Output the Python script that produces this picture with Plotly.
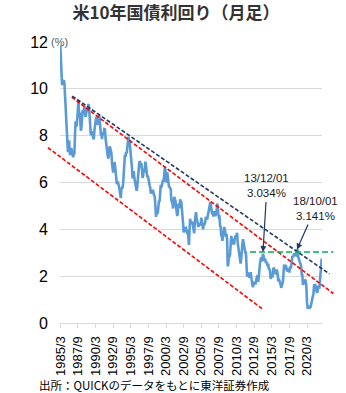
import plotly.graph_objects as go

# ---------------- data ----------------
start_year, start_month = 1985, 3
yield_pct = [
    # 1985 Mar-Dec
    11.86, 11.43, 10.85, 10.16, 10.31, 10.33, 10.37, 10.24, 9.78, 9.26,
    # 1986
    9.19, 8.70, 7.78, 7.30, 7.71, 7.80, 7.30, 7.17, 7.45, 7.43, 7.25, 7.11,
    # 1987
    7.08, 7.25, 7.25, 8.02, 8.61, 8.40, 8.45, 8.76, 9.42, 9.52, 8.86, 8.99,
    # 1988
    8.67, 8.21, 8.37, 8.72, 9.09, 8.92, 9.06, 9.26, 8.98, 8.80, 8.96, 9.11,
    # 1989
    9.09, 9.17, 9.36, 9.18, 8.86, 8.28, 8.02, 8.11, 8.19, 8.01, 7.87, 7.84,
    # 1990
    8.21, 8.47, 8.59, 8.79, 8.76, 8.48, 8.47, 8.75, 8.89, 8.72, 8.39, 8.08,
    # 1991
    8.09, 7.85, 8.11, 8.04, 8.07, 8.28, 8.27, 7.90, 7.65, 7.53, 7.42, 7.09,
    # 1992
    7.03, 7.34, 7.54, 7.48, 7.39, 7.26, 6.84, 6.59, 6.42, 6.59, 6.87, 6.77,
    # 1993
    6.60, 6.26, 5.98, 5.97, 6.04, 5.96, 5.81, 5.68, 5.36, 5.33, 5.72, 5.77,
    # 1994
    5.75, 5.97, 6.48, 6.97, 7.18, 7.10, 7.30, 7.24, 7.46, 7.74, 7.96, 7.81,
    # 1995
    7.78, 7.47, 7.20, 7.06, 6.63, 6.17, 6.28, 6.49, 6.20, 6.04, 5.93, 5.71,
    # 1996
    5.65, 5.81, 6.27, 6.51, 6.74, 6.91, 6.87, 6.64, 6.83, 6.53, 6.20, 6.30,
    # 1997
    6.58, 6.42, 6.69, 6.89, 6.71, 6.49, 6.22, 6.30, 6.21, 6.03, 5.88, 5.81,
    # 1998
    5.54, 5.57, 5.65, 5.64, 5.65, 5.50, 5.46, 5.34, 4.81, 4.53, 4.83, 4.65,
    # 1999
    4.72, 5.00, 5.23, 5.18, 5.54, 5.90, 5.79, 5.94, 5.92, 6.11, 6.03, 6.28,
    # 2000
    6.66, 6.52, 6.26, 5.99, 6.44, 6.10, 6.05, 5.83, 5.80, 5.74, 5.72, 5.24,
    # 2001
    5.16, 5.10, 4.89, 5.14, 5.39, 5.28, 5.24, 4.97, 4.73, 4.57, 4.65, 5.09,
    # 2002
    5.04, 4.91, 5.28, 5.21, 5.16, 4.93, 4.65, 4.26, 3.87, 3.94, 4.05, 4.03,
    # 2003
    4.05, 3.90, 3.81, 3.96, 3.57, 3.33, 3.98, 4.45, 4.27, 4.29, 4.30, 4.27,
    # 2004
    4.15, 4.08, 3.83, 4.35, 4.72, 4.73, 4.50, 4.28, 4.13, 4.10, 4.19, 4.23,
    # 2005
    4.22, 4.17, 4.50, 4.34, 4.14, 4.00, 4.18, 4.26, 4.20, 4.46, 4.54, 4.47,
    # 2006
    4.42, 4.57, 4.72, 4.99, 5.11, 5.11, 5.09, 4.88, 4.72, 4.73, 4.60, 4.56,
    # 2007
    4.76, 4.72, 4.56, 4.69, 4.75, 5.10, 5.00, 4.67, 4.52, 4.53, 4.15, 4.10,
    # 2008
    3.74, 3.74, 3.51, 3.68, 3.88, 4.10, 4.01, 3.89, 3.69, 3.81, 3.53, 2.42,
    # 2009
    2.52, 2.87, 2.82, 2.93, 3.29, 3.72, 3.56, 3.59, 3.40, 3.39, 3.40, 3.59,
    # 2010
    3.73, 3.69, 3.73, 3.85, 3.42, 3.20, 3.01, 2.70, 2.65, 2.54, 2.76, 3.29,
    # 2011
    3.39, 3.58, 3.41, 3.46, 3.17, 3.00, 3.00, 2.30, 1.98, 2.15, 2.01, 1.98,
    # 2012
    1.97, 1.97, 2.17, 2.05, 1.80, 1.62, 1.53, 1.68, 1.72, 1.75, 1.65, 1.72,
    # 2013
    1.91, 1.98, 1.96, 1.76, 1.93, 2.30, 2.58, 2.74, 2.81, 2.62, 2.72, 2.95,
    # 2014
    2.86, 2.71, 2.72, 2.71, 2.56, 2.60, 2.54, 2.42, 2.53, 2.30, 2.33, 2.21,
    # 2015
    1.88, 1.98, 2.04, 1.94, 2.20, 2.36, 2.32, 2.17, 2.17, 2.07, 2.26, 2.24,
    # 2016
    2.09, 1.78, 1.89, 1.81, 1.81, 1.64, 1.50, 1.56, 1.63, 1.76, 2.14, 2.49,
    # 2017
    2.43, 2.42, 2.48, 2.30, 2.30, 2.19, 2.32, 2.21, 2.20, 2.36, 2.35, 2.40,
    # 2018
    2.58, 2.86, 2.84, 2.87, 2.98, 2.91, 2.89, 2.89, 3.00, 3.15, 3.12, 2.83,
    # 2019
    2.71, 2.68, 2.57, 2.53, 2.40, 2.07, 2.06, 1.63, 1.70, 1.71, 1.81, 1.86,
    # 2020
    1.76, 1.50, 0.87, 0.66, 0.67, 0.73, 0.62, 0.65, 0.68, 0.79, 0.87, 0.93,
    # 2021
    1.08, 1.26, 1.61, 1.64, 1.62, 1.52, 1.32, 1.28, 1.37, 1.58, 1.56, 1.47,
    # 2022 Jan-Apr
    1.76, 1.93, 2.13, 2.75,
]

months = []
yy, mm = start_year, start_month
for _ in yield_pct:
    months.append(f"{yy}/{mm}")
    mm += 1
    if mm > 12:
        mm, yy = 1, yy + 1

tick_labels = months[::30]
y_ticks = [0, 2, 4, 6, 8, 10, 12]

# trend / reference lines (x = month index from 1985/3, y = %)
navy_x, navy_y = [20.4, 458.0], [9.69, 2.10]
red_up_x, red_up_y = [19.4, 464.8], [9.65, 1.26]
red_low_x, red_low_y = [-21.1, 344.5], [7.49, 0.59]
level_x, level_y = [323.0, 464.8], [3.034, 3.034]

callout_x = ["2013/12", "2018/10"]
callout_y = [3.034, 3.141]
callout_text = ["13/12/01<br>3.034%", "18/10/01<br>3.141%"]

title_text = "米10年国債利回り（月足）"
unit_text = "(%)"
source_text = "出所：QUICKのデータをもとに東洋証券作成"

# ---------------- figure ----------------
W, H = 346, 393
ML, MR, MT, MB = 44, 6, 42, 70
pw = W - ML - MR
ph = H - MT - MB
dom = [16 / pw, 278 / pw]
xr = [-0.5, len(yield_pct) - 0.5]
px_per = (dom[1] - dom[0]) * pw / (xr[1] - xr[0])
x2r = [xr[0] - dom[0] * pw / px_per, xr[1] + (1 - dom[1]) * pw / px_per]

font_lat = "Liberation Sans, Arial, sans-serif"
font_cjk = "Noto Sans CJK JP, sans-serif"

fig = go.Figure()
fig.add_trace(go.Scatter(x=months, y=yield_pct, mode="lines",
                         line=dict(color="#5b9bd5", width=2.6),
                         xaxis="x", yaxis="y", hoverinfo="skip"))

for xs, ys, col, dash in [
    (red_low_x, red_low_y, "#ff0000", "4px,2px"),
    (red_up_x, red_up_y, "#ff0000", "4px,2px"),
    (navy_x, navy_y, "#1f3864", "4px,2px"),
    (level_x, level_y, "#00b050", "6px,3px"),
]:
    fig.add_trace(go.Scatter(x=xs, y=ys, mode="lines",
                             line=dict(color=col, width=1.6, dash=dash),
                             xaxis="x2", yaxis="y2", hoverinfo="skip"))

fig.update_layout(
    width=W, height=H,
    margin=dict(l=ML, r=MR, t=MT, b=MB, pad=0),
    paper_bgcolor="white", plot_bgcolor="rgba(0,0,0,0)",
    showlegend=False,
    title=dict(text=title_text, x=176 / W, xref="container", xanchor="center",
               y=(H - 13) / H, yref="container", yanchor="middle",
               font=dict(family=font_cjk, size=17, color="#333333", weight="bold")),
    xaxis=dict(type="category", domain=dom, range=xr, anchor="y",
               tickmode="array", tickvals=tick_labels, ticktext=tick_labels,
               tickangle=-90, ticks="outside", ticklen=4, tickcolor="#d9d9d9",
               showgrid=False, showline=True, linecolor="#d9d9d9", linewidth=1,
               zeroline=False, ticklabelstandoff=3,
               tickfont=dict(family=font_lat, size=13, color="#000000")),
    yaxis=dict(range=[0, 12], tickvals=y_ticks, anchor="x",
               showgrid=True, gridcolor="#d9d9d9", gridwidth=1,
               showline=False, zeroline=False, ticks="", ticklabelstandoff=11,
               tickfont=dict(family=font_lat, size=16, color="#000000")),
    xaxis2=dict(domain=[0, 1], range=x2r, anchor="y2", visible=False),
    yaxis2=dict(domain=[0, 1], range=[0, 12], anchor="x2", visible=False),
)

annotations = [
    dict(text=unit_text, xref="paper", yref="paper", x=(50 - ML) / pw, y=1.0,
         xanchor="left", yanchor="middle", showarrow=False, borderpad=0,
         font=dict(family=font_lat, size=11, color="#595959")),
    dict(text=source_text, xref="paper", yref="paper", x=(38 - ML) / pw,
         y=-(385 - (MT + ph)) / ph, xanchor="left", yanchor="middle",
         showarrow=False, borderpad=0,
         font=dict(family=font_cjk, size=11.5, color="#000000")),
]
offsets = [(4, -66), (18, -41)]
for cx, cy, ct, (ax, ay) in zip(callout_x, callout_y, callout_text, offsets):
    annotations.append(dict(
        x=cx, y=cy, xref="x", yref="y", text=ct, showarrow=True,
        ax=ax, ay=ay, arrowhead=2, arrowsize=1, arrowwidth=1.2,
        arrowcolor="#1f3864", font=dict(family=font_lat, size=11.5, color="#1a1a1a"),
        align="center", borderpad=2))
fig.update_layout(annotations=annotations)

fig.write_html("out.html")
